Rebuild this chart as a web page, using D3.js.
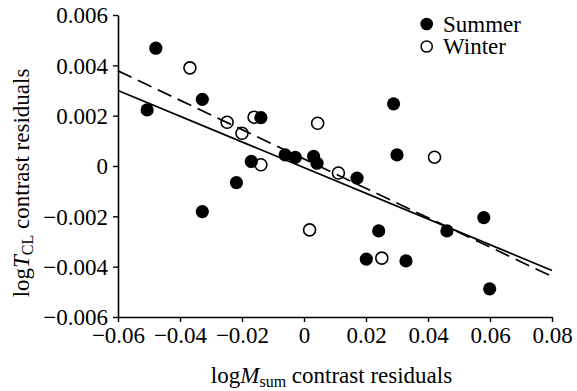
<!DOCTYPE html>
<html>
<head>
<meta charset="utf-8">
<script src="https://cdn.jsdelivr.net/npm/d3@7"></script>
<style>
  html, body { margin: 0; padding: 0; background: #fff; }
  svg { display: block; }
  svg text { font-family: "Liberation Serif", "Times New Roman", serif !important; fill: #000; }
</style>
</head>
<body>
<svg id="chart" width="577" height="391"></svg>
<script>
// ---- data ----
const summerX = [-0.0478, -0.0506, -0.0328, -0.0139, -0.0170, -0.0218, -0.0328, -0.0061, -0.0028, 0.0031, 0.0042, 0.0289, 0.0300, 0.0171, 0.0241, 0.0201, 0.0329, 0.0461, 0.0580, 0.0599];
const summerY = [0.00468, 0.00223, 0.00265, 0.00192, 0.00018, -0.00066, -0.00181, 0.00044, 0.00034, 0.00038, 0.00011, 0.00247, 0.00044, -0.00048, -0.00258, -0.00370, -0.00377, -0.00258, -0.00205, -0.00488];
const winterX = [-0.0368, -0.0248, -0.0200, -0.0161, -0.0139, 0.0044, 0.0111, 0.0018, 0.0251, 0.0421];
const winterY = [0.00390, 0.00174, 0.00130, 0.00194, 0.00005, 0.00170, -0.00028, -0.00254, -0.00366, 0.00035];
// fitted lines: [x0, y0, x1, y1]
const summerFit = [-0.06, 0.00300, 0.08, -0.00415];
const winterFit = [-0.06, 0.00378, 0.08, -0.00439];
const xTicks = [-0.06, -0.04, -0.02, 0, 0.02, 0.04, 0.06, 0.08];
const yTicks = [-0.006, -0.004, -0.002, 0, 0.002, 0.004, 0.006];
const seriesNames = ["Summer", "Winter"];

// ---- layout ----
const svg = d3.select("#chart");
const x = d3.scaleLinear().domain([-0.06, 0.08]).range([118, 552]);
const y = d3.scaleLinear().domain([-0.006, 0.006]).range([317, 15]);
const fmt = d => d === 0 ? "0" : d3.format(".3~f")(d).replace("-", "\u2212");
const fmtx = d => d === 0 ? "0" : d3.format(".2~f")(d).replace("-", "\u2212");

// axes
const xAxis = svg.append("g").attr("transform", `translate(0,${y(-0.006)})`)
  .call(d3.axisBottom(x).tickValues(xTicks).tickFormat(fmtx).tickSize(5).tickSizeOuter(0).tickPadding(5));
const yAxis = svg.append("g").attr("transform", `translate(${x(-0.06)},0)`)
  .call(d3.axisLeft(y).tickValues(yTicks).tickFormat(fmt).tickSize(5).tickSizeOuter(0).tickPadding(5));
[xAxis, yAxis].forEach(g => {
  g.attr("font-family", "Liberation Serif").attr("font-size", 23);
  g.select(".domain").attr("stroke", "#000").attr("stroke-width", 1.6);
  g.selectAll(".tick line").attr("stroke", "#000").attr("stroke-width", 1.4);
  g.selectAll(".tick text").attr("fill", "#000");
});
xAxis.selectAll(".tick text").attr("dy", "0.71em");
yAxis.selectAll(".tick text").attr("dy", "0.34em");

// points
const summer = summerX.map((v, i) => ({x: v, y: summerY[i]}));
const winter = winterX.map((v, i) => ({x: v, y: winterY[i]}));

svg.append("g").selectAll("circle").data(winter).join("circle")
  .attr("cx", d => x(d.x)).attr("cy", d => y(d.y)).attr("r", 6)
  .attr("fill", "#fff").attr("stroke", "#000").attr("stroke-width", 1.6);
svg.append("g").selectAll("circle").data(summer).join("circle")
  .attr("cx", d => x(d.x)).attr("cy", d => y(d.y)).attr("r", 6.6)
  .attr("fill", "#000");

// fit lines
svg.append("line")
  .attr("x1", x(summerFit[0])).attr("y1", y(summerFit[1]))
  .attr("x2", x(summerFit[2])).attr("y2", y(summerFit[3]))
  .attr("stroke", "#000").attr("stroke-width", 1.7);
svg.append("line")
  .attr("x1", x(winterFit[0])).attr("y1", y(winterFit[1]))
  .attr("x2", x(winterFit[2])).attr("y2", y(winterFit[3]))
  .attr("stroke", "#000").attr("stroke-width", 1.7).attr("stroke-dasharray", "15,7");

// legend
const leg = svg.append("g");
seriesNames.forEach((name, i) => {
  const cy = 24 + i * 22.5;
  leg.append("circle").attr("cx", 426.7).attr("cy", cy).attr("r", i === 0 ? 6.3 : 5.6)
    .attr("fill", i === 0 ? "#000" : "#fff").attr("stroke", "#000").attr("stroke-width", i === 0 ? 0 : 1.5);
  leg.append("text").attr("x", 443).attr("y", cy + 7.5).style("font-size", "23px").text(name);
});

// axis titles
const xt = svg.append("text").attr("x", 331.5).attr("y", 383).attr("text-anchor", "middle").style("font-size", "23px");
xt.append("tspan").text("log");
xt.append("tspan").style("font-style", "italic").text("M");
xt.append("tspan").style("font-size", "16px").attr("dy", 4).text("sum");
xt.append("tspan").attr("dy", -4).text(" contrast residuals");

const yt = svg.append("text").attr("transform", "translate(29,183) rotate(-90)").attr("text-anchor", "middle").style("font-size", "23px");
yt.append("tspan").text("log");
yt.append("tspan").style("font-style", "italic").text("T");
yt.append("tspan").style("font-size", "16px").attr("dy", 4).text("CL");
yt.append("tspan").attr("dy", -4).text(" contrast residuals");
</script>
</body>
</html>
